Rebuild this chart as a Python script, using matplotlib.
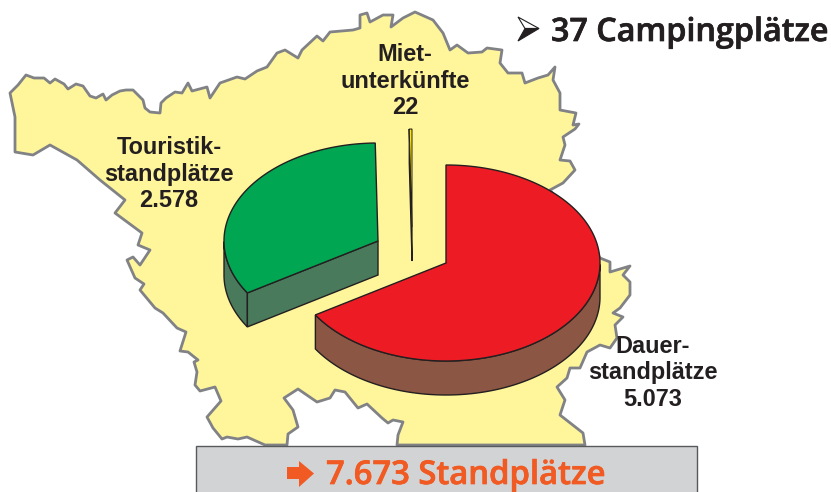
import numpy as np
import matplotlib
matplotlib.use("Agg")
import matplotlib.pyplot as plt
import matplotlib.patheffects as pe
from matplotlib.patches import Polygon, Rectangle

# Daten
kategorien = ["Dauer-\nstandplätze\n5.073", "Miet-\nunterkünfte\n22", "Touristik-\nstandplätze\n2.578"]
werte = [5073, 22, 2578]
gesamt_text = "7.673 Standplätze"
titel_text = "37 Campingplätze"

# Umriss der Karte (Saarland) in Pixeln
karte_x = [10, 18, 26, 34, 44, 50, 55, 64, 68, 76, 83, 90, 96, 103, 106, 112, 120, 126, 133, 143, 145, 150, 160, 161,
           166, 175, 182, 188, 192, 207, 210, 220, 237, 245, 257, 267, 277, 285, 298, 302, 317, 323, 330, 353, 360,
           360, 367, 370, 383, 393, 391, 403, 415, 433, 443, 450, 457, 468, 482, 487, 502, 500, 508, 522, 525, 538,
           548, 555, 553, 560, 560, 576, 573, 579, 575, 563, 565, 560, 570, 575, 563, 550, 590, 600, 610, 610, 630,
           623, 630, 630, 620, 613, 623, 615, 617, 610, 600, 587, 580, 570, 567, 557, 565, 560, 583, 585,
           397, 398, 403, 393, 388, 382, 367, 358, 345, 335, 330, 317, 298, 284, 293, 298, 288, 287,
           265, 247, 238, 227, 222, 213, 207, 221, 215, 200, 195, 197, 194, 198, 188, 180, 186, 177, 163, 155, 140,
           144, 135, 127, 133, 140, 150, 138, 142, 115, 125, 100, 77, 50, 33, 15, 15]
karte_y = [93, 85, 75, 78, 78, 83, 79, 84, 89, 84, 86, 96, 98, 94, 100, 95, 91, 90, 90, 100, 108, 112, 113, 103,
           98, 92, 93, 83, 91, 87, 98, 83, 77, 79, 71, 67, 53, 50, 58, 50, 36, 41, 32, 30, 28,
           15, 13, 22, 15, 15, 27, 18, 12, 20, 33, 50, 45, 53, 52, 48, 50, 63, 73, 73, 83, 78,
           75, 67, 80, 93, 110, 113, 125, 124, 129, 137, 145, 160, 161, 170, 183, 190, 240, 258, 262, 272, 266,
           275, 282, 295, 308, 313, 317, 325, 338, 348, 345, 352, 368, 368, 378, 387, 400, 415, 433, 445,
           445, 435, 422, 420, 423, 418, 404, 408, 392, 390, 398, 402, 389, 398, 410, 427, 434, 445,
           445, 437, 439, 437, 439, 428, 417, 401, 387, 391, 385, 372, 362, 360, 352, 351, 332, 328, 313, 308, 290,
           284, 278, 260, 257, 265, 250, 245, 233, 213, 200, 180, 160, 145, 155, 152, 117]

# Geometrie der 3D-Torte
A = 154    # grosse Halbachse
B = 98     # kleine Halbachse
TIEFE = 34

DUNKEL = "#231F20"
ORANGE = "#F15A22"


def bogen(mitte, von, bis, n=200):
    t = np.radians(np.linspace(von, bis, n))
    return mitte[0] + A * np.cos(t), mitte[1] - B * np.sin(t)


def stueck(ax, mitte, von, bis, farbe, seite, schnitt=False, zorder=3):
    # von > bis, im Uhrzeigersinn
    x, y = bogen(mitte, von, bis)
    lw = 1.0
    # Seitenwand vorne: nur der untere Teil des Bogens
    unten = y >= mitte[1]
    xu, yu = x[unten], y[unten]
    o = np.argsort(xu)
    xu, yu = xu[o], yu[o]
    wand = np.r_[np.c_[xu, yu], np.c_[xu[::-1], yu[::-1] + TIEFE]]
    ax.add_patch(Polygon(wand, closed=True, fc=seite, ec=DUNKEL, lw=lw, zorder=zorder))
    # Schnittflaeche zur Mitte, nur wo sie sichtbar ist
    if schnitt:
        ex, ey = x[0], y[0]
        flaeche = [mitte, (ex, ey), (ex, ey + TIEFE), (mitte[0], mitte[1] + TIEFE)]
        ax.add_patch(Polygon(flaeche, closed=True, fc=seite, ec=DUNKEL, lw=lw, zorder=zorder))
    oben = np.r_[[mitte], np.c_[x, y]]
    ax.add_patch(Polygon(oben, closed=True, fc=farbe, ec=DUNKEL, lw=lw, zorder=zorder + 0.5))


fig = plt.figure(figsize=(8.31, 4.92), dpi=100)
ax = fig.add_axes([0, 0, 1, 1])
ax.set_xlim(0, 831)
ax.set_ylim(492, 0)
ax.axis("off")

# Karte
ax.add_patch(Polygon(np.c_[karte_x, karte_y], closed=True, fc="#FFF59B", ec="#808285", lw=2.0,
                     joinstyle="round", zorder=1))

# Winkel aus den Werten
summe = sum(werte)
w_dauer = werte[0] / summe * 360
w_miet = werte[1] / summe * 360
w_tour = werte[2] / summe * 360
start = 90
ende_dauer = start - w_dauer
ende_tour = ende_dauer - w_tour
ende_miet = ende_tour - w_miet

# Tortenstuecke, jedes aus der Mitte versetzt
stueck(ax, (446, 263), start, ende_dauer, "#ED1C24", "#8B5643")
stueck(ax, (378, 241), ende_dauer, ende_tour, "#00A651", "#4A7A5C", schnitt=True)

# Mietunterkuenfte: nur schmaler Streifen mit Seitenwand links
mitte_miet = (412, 227)
xm, ym = bogen(mitte_miet, ende_tour, ende_miet, 10)
ax.add_patch(Polygon([mitte_miet, (xm[0], ym[0]), (xm[0], ym[0] + TIEFE), (mitte_miet[0], mitte_miet[1] + TIEFE)],
                     closed=True, fc="#5A5540", ec=DUNKEL, lw=0.9, zorder=3))
ax.add_patch(Polygon(np.r_[[mitte_miet], np.c_[xm, ym]], closed=True, fc="#FFE600", ec=DUNKEL, lw=0.7, zorder=3.5))

# Beschriftungen
beschriftung = dict(family="Liberation Sans", weight="bold", color=DUNKEL, fontsize=16.9,
                    ha="center", va="center", linespacing=1.22, zorder=6)
ax.text(653, 373, kategorien[0], **beschriftung)
ax.text(405, 81, kategorien[1], **beschriftung)
ax.text(169, 174, kategorien[2], **beschriftung)

# Pfeilspitze vor dem Titel
ax.add_patch(Polygon([(518, 17), (539, 28.5), (525, 28.5)], closed=True, fc="white", ec=DUNKEL, lw=0.8, zorder=6))
ax.add_patch(Polygon([(518, 41), (539, 28.5), (525, 28.5)], closed=True, fc=DUNKEL, ec=DUNKEL, lw=0.8, zorder=6))

# etwas kraeftiger als der normale Schnitt
kraeftig = [pe.withStroke(linewidth=0.5, foreground=DUNKEL)]
ax.text(551, 41, titel_text, family="Open Sans", weight="semibold", fontsize=23.25, color=DUNKEL,
        ha="left", va="baseline", zorder=6, path_effects=kraeftig)

# Graue Box unten
ax.add_patch(Rectangle((195.5, 445.5), 501.5, 60, fc="#D1D3D4", ec="#58595B", lw=1.0, zorder=5))
ax.add_patch(Polygon([(287, 467), (299, 467), (299, 461), (314, 473.5), (299, 487), (299, 479), (287, 479)],
                     closed=True, fc=ORANGE, ec="none", zorder=6))
ax.text(326, 484, gesamt_text, family="Open Sans", weight="semibold", fontsize=23.6, color=ORANGE,
        ha="left", va="baseline", zorder=6, path_effects=[pe.withStroke(linewidth=0.5, foreground=ORANGE)])

fig.savefig("out.png", dpi=100)
